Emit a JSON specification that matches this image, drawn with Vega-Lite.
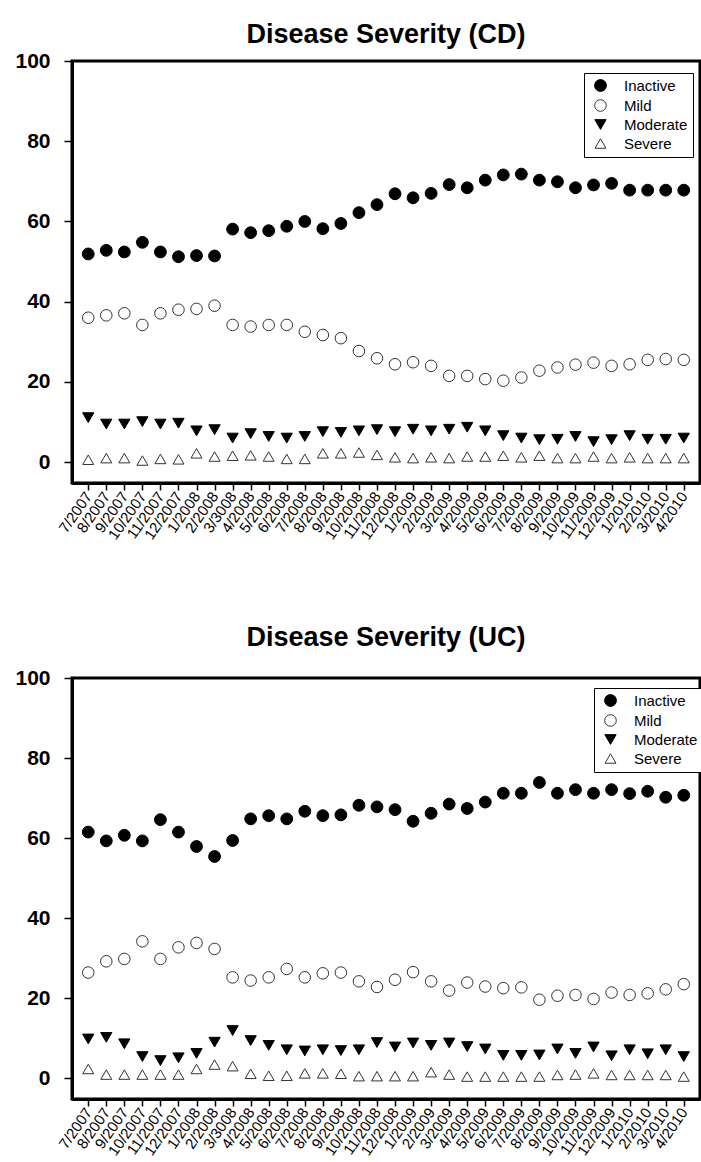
{
  "$schema": "https://vega.github.io/schema/vega-lite/v6.json",
  "padding": {"left": 13, "top": 19, "right": 0, "bottom": 0},
  "spacing": 78,
  "config": {
    "font": "Liberation Sans",
    "view": {"stroke": "black", "strokeWidth": 3},
    "axis": {"grid": false, "title": null, "domainColor": "black", "domainWidth": 3, "tickColor": "black", "labelColor": "black"},
    "title": {"fontSize": 27, "fontWeight": "bold", "color": "black", "font": "Liberation Sans"}
  },
  "datasets": {
    "cd": [
      {"m":"7/2007","s":"Inactive","v":51.9},{"m":"8/2007","s":"Inactive","v":52.8},{"m":"9/2007","s":"Inactive","v":52.4},{"m":"10/2007","s":"Inactive","v":54.8},{"m":"11/2007","s":"Inactive","v":52.4},{"m":"12/2007","s":"Inactive","v":51.2},{"m":"1/2008","s":"Inactive","v":51.5},{"m":"2/2008","s":"Inactive","v":51.4},{"m":"3/3008","s":"Inactive","v":58.1},{"m":"4/2008","s":"Inactive","v":57.2},{"m":"5/2008","s":"Inactive","v":57.7},{"m":"6/2008","s":"Inactive","v":58.8},{"m":"7/2008","s":"Inactive","v":60.0},{"m":"8/2008","s":"Inactive","v":58.2},{"m":"9/2008","s":"Inactive","v":59.5},{"m":"10/2008","s":"Inactive","v":62.2},{"m":"11/2008","s":"Inactive","v":64.2},{"m":"12/2008","s":"Inactive","v":66.9},{"m":"1/2009","s":"Inactive","v":65.9},{"m":"2/2009","s":"Inactive","v":67.0},{"m":"3/2009","s":"Inactive","v":69.2},{"m":"4/2009","s":"Inactive","v":68.4},{"m":"5/2009","s":"Inactive","v":70.3},{"m":"6/2009","s":"Inactive","v":71.6},{"m":"7/2009","s":"Inactive","v":71.8},{"m":"8/2009","s":"Inactive","v":70.3},{"m":"9/2009","s":"Inactive","v":69.9},{"m":"10/2009","s":"Inactive","v":68.4},{"m":"11/2009","s":"Inactive","v":69.1},{"m":"12/2009","s":"Inactive","v":69.5},{"m":"1/2010","s":"Inactive","v":67.8},{"m":"2/2010","s":"Inactive","v":67.8},{"m":"3/2010","s":"Inactive","v":67.8},{"m":"4/2010","s":"Inactive","v":67.8},
      {"m":"7/2007","s":"Mild","v":36.0},{"m":"8/2007","s":"Mild","v":36.6},{"m":"9/2007","s":"Mild","v":37.1},{"m":"10/2007","s":"Mild","v":34.2},{"m":"11/2007","s":"Mild","v":37.1},{"m":"12/2007","s":"Mild","v":38.0},{"m":"1/2008","s":"Mild","v":38.2},{"m":"2/2008","s":"Mild","v":39.0},{"m":"3/3008","s":"Mild","v":34.2},{"m":"4/2008","s":"Mild","v":33.8},{"m":"5/2008","s":"Mild","v":34.2},{"m":"6/2008","s":"Mild","v":34.2},{"m":"7/2008","s":"Mild","v":32.5},{"m":"8/2008","s":"Mild","v":31.7},{"m":"9/2008","s":"Mild","v":30.9},{"m":"10/2008","s":"Mild","v":27.7},{"m":"11/2008","s":"Mild","v":25.9},{"m":"12/2008","s":"Mild","v":24.4},{"m":"1/2009","s":"Mild","v":24.9},{"m":"2/2009","s":"Mild","v":24.0},{"m":"3/2009","s":"Mild","v":21.5},{"m":"4/2009","s":"Mild","v":21.5},{"m":"5/2009","s":"Mild","v":20.7},{"m":"6/2009","s":"Mild","v":20.3},{"m":"7/2009","s":"Mild","v":21.1},{"m":"8/2009","s":"Mild","v":22.8},{"m":"9/2009","s":"Mild","v":23.6},{"m":"10/2009","s":"Mild","v":24.3},{"m":"11/2009","s":"Mild","v":24.8},{"m":"12/2009","s":"Mild","v":24.0},{"m":"1/2010","s":"Mild","v":24.4},{"m":"2/2010","s":"Mild","v":25.5},{"m":"3/2010","s":"Mild","v":25.7},{"m":"4/2010","s":"Mild","v":25.5},
      {"m":"7/2007","s":"Moderate","v":11.1},{"m":"8/2007","s":"Moderate","v":9.5},{"m":"9/2007","s":"Moderate","v":9.5},{"m":"10/2007","s":"Moderate","v":10.1},{"m":"11/2007","s":"Moderate","v":9.5},{"m":"12/2007","s":"Moderate","v":9.7},{"m":"1/2008","s":"Moderate","v":7.8},{"m":"2/2008","s":"Moderate","v":8.1},{"m":"3/3008","s":"Moderate","v":6.0},{"m":"4/2008","s":"Moderate","v":7.1},{"m":"5/2008","s":"Moderate","v":6.4},{"m":"6/2008","s":"Moderate","v":6.0},{"m":"7/2008","s":"Moderate","v":6.4},{"m":"8/2008","s":"Moderate","v":7.6},{"m":"9/2008","s":"Moderate","v":7.4},{"m":"10/2008","s":"Moderate","v":7.8},{"m":"11/2008","s":"Moderate","v":8.1},{"m":"12/2008","s":"Moderate","v":7.6},{"m":"1/2009","s":"Moderate","v":8.2},{"m":"2/2009","s":"Moderate","v":7.8},{"m":"3/2009","s":"Moderate","v":8.2},{"m":"4/2009","s":"Moderate","v":8.7},{"m":"5/2009","s":"Moderate","v":7.8},{"m":"6/2009","s":"Moderate","v":6.6},{"m":"7/2009","s":"Moderate","v":6.0},{"m":"8/2009","s":"Moderate","v":5.6},{"m":"9/2009","s":"Moderate","v":5.7},{"m":"10/2009","s":"Moderate","v":6.4},{"m":"11/2009","s":"Moderate","v":5.1},{"m":"12/2009","s":"Moderate","v":5.6},{"m":"1/2010","s":"Moderate","v":6.6},{"m":"2/2010","s":"Moderate","v":5.7},{"m":"3/2010","s":"Moderate","v":5.7},{"m":"4/2010","s":"Moderate","v":6.0},
      {"m":"7/2007","s":"Severe","v":0.6},{"m":"8/2007","s":"Severe","v":1.0},{"m":"9/2007","s":"Severe","v":1.0},{"m":"10/2007","s":"Severe","v":0.4},{"m":"11/2007","s":"Severe","v":0.8},{"m":"12/2007","s":"Severe","v":0.7},{"m":"1/2008","s":"Severe","v":2.2},{"m":"2/2008","s":"Severe","v":1.4},{"m":"3/3008","s":"Severe","v":1.6},{"m":"4/2008","s":"Severe","v":1.7},{"m":"5/2008","s":"Severe","v":1.4},{"m":"6/2008","s":"Severe","v":0.8},{"m":"7/2008","s":"Severe","v":0.8},{"m":"8/2008","s":"Severe","v":2.2},{"m":"9/2008","s":"Severe","v":2.2},{"m":"10/2008","s":"Severe","v":2.4},{"m":"11/2008","s":"Severe","v":1.8},{"m":"12/2008","s":"Severe","v":1.2},{"m":"1/2009","s":"Severe","v":1.0},{"m":"2/2009","s":"Severe","v":1.2},{"m":"3/2009","s":"Severe","v":1.0},{"m":"4/2009","s":"Severe","v":1.4},{"m":"5/2009","s":"Severe","v":1.4},{"m":"6/2009","s":"Severe","v":1.6},{"m":"7/2009","s":"Severe","v":1.2},{"m":"8/2009","s":"Severe","v":1.6},{"m":"9/2009","s":"Severe","v":1.0},{"m":"10/2009","s":"Severe","v":1.0},{"m":"11/2009","s":"Severe","v":1.4},{"m":"12/2009","s":"Severe","v":1.0},{"m":"1/2010","s":"Severe","v":1.2},{"m":"2/2010","s":"Severe","v":1.0},{"m":"3/2010","s":"Severe","v":1.0},{"m":"4/2010","s":"Severe","v":1.0}
    ],
    "uc": [
      {"m":"7/2007","s":"Inactive","v":61.5},{"m":"8/2007","s":"Inactive","v":59.3},{"m":"9/2007","s":"Inactive","v":60.7},{"m":"10/2007","s":"Inactive","v":59.3},{"m":"11/2007","s":"Inactive","v":64.6},{"m":"12/2007","s":"Inactive","v":61.5},{"m":"1/2008","s":"Inactive","v":57.9},{"m":"2/2008","s":"Inactive","v":55.4},{"m":"3/3008","s":"Inactive","v":59.4},{"m":"4/2008","s":"Inactive","v":64.8},{"m":"5/2008","s":"Inactive","v":65.6},{"m":"6/2008","s":"Inactive","v":64.8},{"m":"7/2008","s":"Inactive","v":66.7},{"m":"8/2008","s":"Inactive","v":65.6},{"m":"9/2008","s":"Inactive","v":65.8},{"m":"10/2008","s":"Inactive","v":68.2},{"m":"11/2008","s":"Inactive","v":67.8},{"m":"12/2008","s":"Inactive","v":67.1},{"m":"1/2009","s":"Inactive","v":64.2},{"m":"2/2009","s":"Inactive","v":66.2},{"m":"3/2009","s":"Inactive","v":68.5},{"m":"4/2009","s":"Inactive","v":67.4},{"m":"5/2009","s":"Inactive","v":69.0},{"m":"6/2009","s":"Inactive","v":71.2},{"m":"7/2009","s":"Inactive","v":71.2},{"m":"8/2009","s":"Inactive","v":73.9},{"m":"9/2009","s":"Inactive","v":71.2},{"m":"10/2009","s":"Inactive","v":72.1},{"m":"11/2009","s":"Inactive","v":71.2},{"m":"12/2009","s":"Inactive","v":72.1},{"m":"1/2010","s":"Inactive","v":71.1},{"m":"2/2010","s":"Inactive","v":71.7},{"m":"3/2010","s":"Inactive","v":70.2},{"m":"4/2010","s":"Inactive","v":70.7},
      {"m":"7/2007","s":"Mild","v":26.4},{"m":"8/2007","s":"Mild","v":29.2},{"m":"9/2007","s":"Mild","v":29.8},{"m":"10/2007","s":"Mild","v":34.2},{"m":"11/2007","s":"Mild","v":29.8},{"m":"12/2007","s":"Mild","v":32.7},{"m":"1/2008","s":"Mild","v":33.8},{"m":"2/2008","s":"Mild","v":32.3},{"m":"3/3008","s":"Mild","v":25.2},{"m":"4/2008","s":"Mild","v":24.4},{"m":"5/2008","s":"Mild","v":25.2},{"m":"6/2008","s":"Mild","v":27.3},{"m":"7/2008","s":"Mild","v":25.2},{"m":"8/2008","s":"Mild","v":26.2},{"m":"9/2008","s":"Mild","v":26.4},{"m":"10/2008","s":"Mild","v":24.2},{"m":"11/2008","s":"Mild","v":22.8},{"m":"12/2008","s":"Mild","v":24.6},{"m":"1/2009","s":"Mild","v":26.5},{"m":"2/2009","s":"Mild","v":24.2},{"m":"3/2009","s":"Mild","v":21.9},{"m":"4/2009","s":"Mild","v":23.9},{"m":"5/2009","s":"Mild","v":22.9},{"m":"6/2009","s":"Mild","v":22.5},{"m":"7/2009","s":"Mild","v":22.7},{"m":"8/2009","s":"Mild","v":19.6},{"m":"9/2009","s":"Mild","v":20.6},{"m":"10/2009","s":"Mild","v":20.8},{"m":"11/2009","s":"Mild","v":19.8},{"m":"12/2009","s":"Mild","v":21.4},{"m":"1/2010","s":"Mild","v":20.8},{"m":"2/2010","s":"Mild","v":21.2},{"m":"3/2010","s":"Mild","v":22.2},{"m":"4/2010","s":"Mild","v":23.5},
      {"m":"7/2007","s":"Moderate","v":9.8},{"m":"8/2007","s":"Moderate","v":10.2},{"m":"9/2007","s":"Moderate","v":8.6},{"m":"10/2007","s":"Moderate","v":5.4},{"m":"11/2007","s":"Moderate","v":4.4},{"m":"12/2007","s":"Moderate","v":5.1},{"m":"1/2008","s":"Moderate","v":6.2},{"m":"2/2008","s":"Moderate","v":9.0},{"m":"3/3008","s":"Moderate","v":11.9},{"m":"4/2008","s":"Moderate","v":9.4},{"m":"5/2008","s":"Moderate","v":8.2},{"m":"6/2008","s":"Moderate","v":7.1},{"m":"7/2008","s":"Moderate","v":6.8},{"m":"8/2008","s":"Moderate","v":7.1},{"m":"9/2008","s":"Moderate","v":6.9},{"m":"10/2008","s":"Moderate","v":7.1},{"m":"11/2008","s":"Moderate","v":8.9},{"m":"12/2008","s":"Moderate","v":7.8},{"m":"1/2009","s":"Moderate","v":8.8},{"m":"2/2009","s":"Moderate","v":8.2},{"m":"3/2009","s":"Moderate","v":8.8},{"m":"4/2009","s":"Moderate","v":7.9},{"m":"5/2009","s":"Moderate","v":7.3},{"m":"6/2009","s":"Moderate","v":5.7},{"m":"7/2009","s":"Moderate","v":5.7},{"m":"8/2009","s":"Moderate","v":5.8},{"m":"9/2009","s":"Moderate","v":7.3},{"m":"10/2009","s":"Moderate","v":6.2},{"m":"11/2009","s":"Moderate","v":7.8},{"m":"12/2009","s":"Moderate","v":5.6},{"m":"1/2010","s":"Moderate","v":7.1},{"m":"2/2010","s":"Moderate","v":6.1},{"m":"3/2010","s":"Moderate","v":7.1},{"m":"4/2010","s":"Moderate","v":5.4},
      {"m":"7/2007","s":"Severe","v":2.3},{"m":"8/2007","s":"Severe","v":0.9},{"m":"9/2007","s":"Severe","v":0.9},{"m":"10/2007","s":"Severe","v":0.9},{"m":"11/2007","s":"Severe","v":0.9},{"m":"12/2007","s":"Severe","v":0.9},{"m":"1/2008","s":"Severe","v":2.3},{"m":"2/2008","s":"Severe","v":3.4},{"m":"3/3008","s":"Severe","v":3.0},{"m":"4/2008","s":"Severe","v":1.1},{"m":"5/2008","s":"Severe","v":0.6},{"m":"6/2008","s":"Severe","v":0.6},{"m":"7/2008","s":"Severe","v":1.2},{"m":"8/2008","s":"Severe","v":1.2},{"m":"9/2008","s":"Severe","v":1.1},{"m":"10/2008","s":"Severe","v":0.5},{"m":"11/2008","s":"Severe","v":0.5},{"m":"12/2008","s":"Severe","v":0.5},{"m":"1/2009","s":"Severe","v":0.5},{"m":"2/2009","s":"Severe","v":1.5},{"m":"3/2009","s":"Severe","v":0.9},{"m":"4/2009","s":"Severe","v":0.4},{"m":"5/2009","s":"Severe","v":0.4},{"m":"6/2009","s":"Severe","v":0.4},{"m":"7/2009","s":"Severe","v":0.4},{"m":"8/2009","s":"Severe","v":0.4},{"m":"9/2009","s":"Severe","v":0.8},{"m":"10/2009","s":"Severe","v":0.9},{"m":"11/2009","s":"Severe","v":1.2},{"m":"12/2009","s":"Severe","v":0.8},{"m":"1/2010","s":"Severe","v":0.8},{"m":"2/2010","s":"Severe","v":0.8},{"m":"3/2010","s":"Severe","v":0.8},{"m":"4/2010","s":"Severe","v":0.4}
    ]
  },
  "vconcat": [
    {
      "title": {"text": "Disease Severity (CD)", "offset": 1},
      "width": 628,
      "height": 422,
      "data": {"name": "cd"},
      "mark": {"type": "point", "filled": true, "strokeWidth": 1, "opacity": 1},
      "encoding": {
        "x": {"field": "m", "type": "ordinal", "sort": null, "scale": {"type": "point", "padding": 0.9},
          "axis": {"labelAngle": -55, "labelFontSize": 15, "tickSize": 7, "tickWidth": 1.5, "labelPadding": 3}},
        "y": {"field": "v", "type": "quantitative", "scale": {"domain": [-5.2, 100], "nice": false, "zero": false},
          "axis": {"values": [0, 20, 40, 60, 80, 100], "labelFontSize": 21, "labelFontWeight": "bold", "tickSize": 8, "tickWidth": 1.5, "labelPadding": 14}},
        "shape": {"field": "s", "type": "nominal", "scale": {"domain": ["Inactive", "Mild", "Moderate", "Severe"], "range": ["circle", "circle", "triangle-down", "triangle-up"]},
          "legend": {"title": null, "orient": "none", "legendX": 512, "legendY": 12, "strokeColor": "black", "fillColor": "white", "padding": 5, "labelFontSize": 15, "rowPadding": 3, "symbolOffset": 4, "labelOffset": 16, "labelColor": "black", "symbolStrokeWidth": 1}},
        "fill": {"field": "s", "type": "nominal", "scale": {"domain": ["Inactive", "Mild", "Moderate", "Severe"], "range": ["black", "white", "black", "white"]}},
        "stroke": {"field": "s", "type": "nominal", "scale": {"domain": ["Inactive", "Mild", "Moderate", "Severe"], "range": ["black", "#333333", "black", "#333333"]}},
        "size": {"field": "s", "type": "nominal", "scale": {"domain": ["Inactive", "Mild", "Moderate", "Severe"], "range": [140, 120, 110, 100]}}
      }
    },
    {
      "title": {"text": "Disease Severity (UC)", "offset": 15},
      "width": 628,
      "height": 421,
      "data": {"name": "uc"},
      "mark": {"type": "point", "filled": true, "strokeWidth": 1, "opacity": 1},
      "encoding": {
        "x": {"field": "m", "type": "ordinal", "sort": null, "scale": {"type": "point", "padding": 0.9},
          "axis": {"labelAngle": -55, "labelFontSize": 15, "tickSize": 7, "tickWidth": 1.5, "labelPadding": 3}},
        "y": {"field": "v", "type": "quantitative", "scale": {"domain": [-5.2, 100], "nice": false, "zero": false},
          "axis": {"values": [0, 20, 40, 60, 80, 100], "labelFontSize": 21, "labelFontWeight": "bold", "tickSize": 8, "tickWidth": 1.5, "labelPadding": 14}},
        "shape": {"field": "s", "type": "nominal", "scale": {"domain": ["Inactive", "Mild", "Moderate", "Severe"], "range": ["circle", "circle", "triangle-down", "triangle-up"]},
          "legend": {"title": null, "orient": "none", "legendX": 522, "legendY": 10, "strokeColor": "black", "fillColor": "white", "padding": 5, "labelFontSize": 15, "rowPadding": 3, "symbolOffset": 4, "labelOffset": 16, "labelColor": "black", "symbolStrokeWidth": 1}},
        "fill": {"field": "s", "type": "nominal", "scale": {"domain": ["Inactive", "Mild", "Moderate", "Severe"], "range": ["black", "white", "black", "white"]}},
        "stroke": {"field": "s", "type": "nominal", "scale": {"domain": ["Inactive", "Mild", "Moderate", "Severe"], "range": ["black", "#333333", "black", "#333333"]}},
        "size": {"field": "s", "type": "nominal", "scale": {"domain": ["Inactive", "Mild", "Moderate", "Severe"], "range": [140, 120, 110, 100]}}
      }
    }
  ],
  "resolve": {"scale": {"shape": "independent", "fill": "independent", "stroke": "independent", "size": "independent"}, "legend": {"shape": "independent", "fill": "independent", "stroke": "independent", "size": "independent"}}
}
